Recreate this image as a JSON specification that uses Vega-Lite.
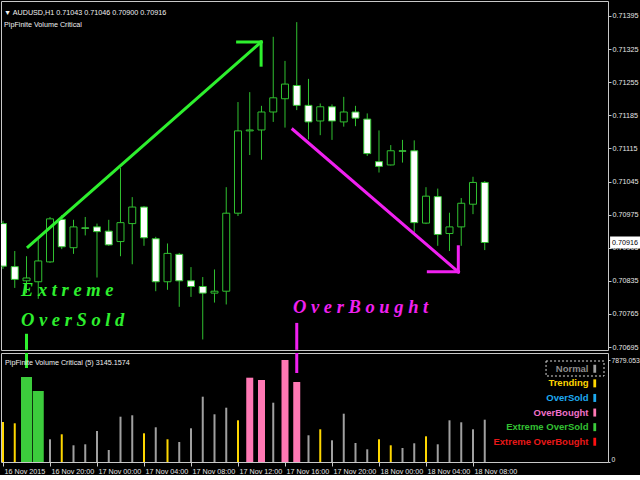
{
  "$schema": "https://vega.github.io/schema/vega-lite/v6.json",
  "background": "black",
  "padding": 0,
  "bounds": "flush",
  "spacing": 3,
  "resolve": {"scale": {"color": "independent"}, "legend": {"color": "independent"}},
  "config": {
    "view": {"stroke": "#c8c8c8", "strokeWidth": 1},
    "font": "Liberation Sans",
    "scale": {"continuousPadding": 0},
    "axis": {"labelColor": "#e6e6e6", "tickColor": "#c8c8c8", "domain": false, "grid": false, "labelFont": "Liberation Sans", "labelFontSize": 7.2, "title": null, "labelOverlap": false},
    "axisY": {"labelOverlap": false}
  },
  "datasets": {
    "bars": [
      {"t":"2015-11-16T16:00:00Z","o":0.70956,"h":0.70962,"l":0.70860,"c":0.70866,"vol":3090,"state":"Trending"},
      {"t":"2015-11-16T17:00:00Z","o":0.70865,"h":0.70898,"l":0.70820,"c":0.70838,"vol":2990,"state":"Trending"},
      {"t":"2015-11-16T18:00:00Z","o":0.70835,"h":0.70887,"l":0.70809,"c":0.70841,"vol":6566,"state":"Extreme OverSold"},
      {"t":"2015-11-16T19:00:00Z","o":0.70833,"h":0.70923,"l":0.70797,"c":0.70877,"vol":5485,"state":"Extreme OverSold"},
      {"t":"2015-11-16T20:00:00Z","o":0.70875,"h":0.70970,"l":0.70873,"c":0.70966,"vol":1754,"state":"Normal"},
      {"t":"2015-11-16T21:00:00Z","o":0.70965,"h":0.70974,"l":0.70902,"c":0.70907,"vol":2140,"state":"Trending"},
      {"t":"2015-11-16T22:00:00Z","o":0.70905,"h":0.70964,"l":0.70892,"c":0.70949,"vol":1290,"state":"Normal"},
      {"t":"2015-11-16T23:00:00Z","o":0.70947,"h":0.70970,"l":0.70931,"c":0.70946,"vol":1367,"state":"Normal"},
      {"t":"2015-11-17T00:00:00Z","o":0.70949,"h":0.70956,"l":0.70842,"c":0.70939,"vol":2395,"state":"Normal"},
      {"t":"2015-11-17T01:00:00Z","o":0.70940,"h":0.70964,"l":0.70909,"c":0.70911,"vol":927,"state":"Normal"},
      {"t":"2015-11-17T02:00:00Z","o":0.70918,"h":0.71074,"l":0.70887,"c":0.70958,"vol":3500,"state":"Normal"},
      {"t":"2015-11-17T03:00:00Z","o":0.70956,"h":0.71012,"l":0.70870,"c":0.70991,"vol":3608,"state":"Normal"},
      {"t":"2015-11-17T04:00:00Z","o":0.70991,"h":0.70993,"l":0.70909,"c":0.70926,"vol":2217,"state":"Trending"},
      {"t":"2015-11-17T05:00:00Z","o":0.70924,"h":0.70928,"l":0.70813,"c":0.70833,"vol":2681,"state":"Normal"},
      {"t":"2015-11-17T06:00:00Z","o":0.70833,"h":0.70914,"l":0.70816,"c":0.70893,"vol":1754,"state":"Trending"},
      {"t":"2015-11-17T07:00:00Z","o":0.70891,"h":0.70894,"l":0.70780,"c":0.70835,"vol":1545,"state":"Normal"},
      {"t":"2015-11-17T08:00:00Z","o":0.70835,"h":0.70864,"l":0.70801,"c":0.70823,"vol":2603,"state":"Normal"},
      {"t":"2015-11-17T09:00:00Z","o":0.70823,"h":0.70843,"l":0.70711,"c":0.70809,"vol":5045,"state":"Normal"},
      {"t":"2015-11-17T10:00:00Z","o":0.70809,"h":0.70859,"l":0.70789,"c":0.70813,"vol":3685,"state":"Normal"},
      {"t":"2015-11-17T11:00:00Z","o":0.70813,"h":0.71033,"l":0.70785,"c":0.70978,"vol":4195,"state":"Normal"},
      {"t":"2015-11-17T12:00:00Z","o":0.70978,"h":0.71213,"l":0.70972,"c":0.71152,"vol":3221,"state":"Trending"},
      {"t":"2015-11-17T13:00:00Z","o":0.71152,"h":0.71234,"l":0.71101,"c":0.71154,"vol":6512,"state":"OverBought"},
      {"t":"2015-11-17T14:00:00Z","o":0.71154,"h":0.71205,"l":0.71091,"c":0.71192,"vol":6335,"state":"OverBought"},
      {"t":"2015-11-17T15:00:00Z","o":0.71192,"h":0.71351,"l":0.71171,"c":0.71222,"vol":4581,"state":"Normal"},
      {"t":"2015-11-17T16:00:00Z","o":0.71220,"h":0.71300,"l":0.71159,"c":0.71251,"vol":7879,"state":"OverBought"},
      {"t":"2015-11-17T17:00:00Z","o":0.71248,"h":0.71382,"l":0.71196,"c":0.71206,"vol":6180,"state":"OverBought"},
      {"t":"2015-11-17T18:00:00Z","o":0.71206,"h":0.71262,"l":0.71134,"c":0.71171,"vol":2063,"state":"Normal"},
      {"t":"2015-11-17T19:00:00Z","o":0.71173,"h":0.71210,"l":0.71143,"c":0.71203,"vol":2526,"state":"Trending"},
      {"t":"2015-11-17T20:00:00Z","o":0.71203,"h":0.71208,"l":0.71133,"c":0.71173,"vol":1676,"state":"Normal"},
      {"t":"2015-11-17T21:00:00Z","o":0.71171,"h":0.71224,"l":0.71161,"c":0.71192,"vol":3731,"state":"Normal"},
      {"t":"2015-11-17T22:00:00Z","o":0.71192,"h":0.71205,"l":0.71162,"c":0.71179,"vol":1468,"state":"Normal"},
      {"t":"2015-11-17T23:00:00Z","o":0.71177,"h":0.71189,"l":0.71099,"c":0.71104,"vol":981,"state":"Normal"},
      {"t":"2015-11-18T00:00:00Z","o":0.71087,"h":0.71153,"l":0.71064,"c":0.71077,"vol":1754,"state":"Trending"},
      {"t":"2015-11-18T01:00:00Z","o":0.71080,"h":0.71122,"l":0.71079,"c":0.71110,"vol":1290,"state":"Trending"},
      {"t":"2015-11-18T02:00:00Z","o":0.71110,"h":0.71133,"l":0.71085,"c":0.71109,"vol":1082,"state":"Normal"},
      {"t":"2015-11-18T03:00:00Z","o":0.71110,"h":0.71132,"l":0.70937,"c":0.70958,"vol":1445,"state":"Normal"},
      {"t":"2015-11-18T04:00:00Z","o":0.70957,"h":0.71033,"l":0.70955,"c":0.71014,"vol":1985,"state":"Trending"},
      {"t":"2015-11-18T05:00:00Z","o":0.71013,"h":0.71030,"l":0.70909,"c":0.70933,"vol":1367,"state":"Normal"},
      {"t":"2015-11-18T06:00:00Z","o":0.70935,"h":0.70979,"l":0.70898,"c":0.70949,"vol":3221,"state":"Normal"},
      {"t":"2015-11-18T07:00:00Z","o":0.70949,"h":0.71010,"l":0.70909,"c":0.70999,"vol":3067,"state":"Normal"},
      {"t":"2015-11-18T08:00:00Z","o":0.70997,"h":0.71055,"l":0.70976,"c":0.71043,"vol":2526,"state":"Normal"},
      {"t":"2015-11-18T09:00:00Z","o":0.71043,"h":0.71046,"l":0.70900,"c":0.70916,"vol":3268,"state":"Normal"}
    ],
    "arrows": [
      {"dir":"up","t":"2015-11-16T18:08:00Z","p":0.70907,"t2":"2015-11-17T13:58:00Z","p2":0.71340},
      {"dir":"up","t":"2015-11-17T11:58:00Z","p":0.71340,"t2":"2015-11-17T13:58:00Z","p2":0.71340},
      {"dir":"up","t":"2015-11-17T13:58:00Z","p":0.71340,"t2":"2015-11-17T13:58:00Z","p2":0.71291},
      {"dir":"down","t":"2015-11-17T16:40:00Z","p":0.71155,"t2":"2015-11-18T06:45:00Z","p2":0.70854},
      {"dir":"down","t":"2015-11-18T04:12:00Z","p":0.70854,"t2":"2015-11-18T06:45:00Z","p2":0.70854},
      {"dir":"down","t":"2015-11-18T06:45:00Z","p":0.70854,"t2":"2015-11-18T06:45:00Z","p2":0.70907}
    ],
    "notes": [
      {"dir":"up","text":"E x t r e m e","t":"2015-11-16T17:32:00Z","p":0.70803},
      {"dir":"up","text":"O v e r S o l d","t":"2015-11-16T17:32:00Z","p":0.70739},
      {"dir":"down","text":"O v e r B o u g h t","t":"2015-11-17T16:41:00Z","p":0.70767}
    ],
    "signals": [
      {"dir":"up","t":"2015-11-16T18:00:00Z","p":0.70723,"v":7262},
      {"dir":"down","t":"2015-11-17T17:00:00Z","p":0.70746,"v":6875}
    ],
    "frames": [
      {"entry":"Normal","t":"2015-11-18T14:13:00Z","t2":"2015-11-18T19:09:00Z","v":7802,"v2":6643}
    ]
  },
  "vconcat": [
    {
      "width": 607,
      "height": 349,
      "title": {"text": "▼ AUDUSD,H1  0.71043 0.71046 0.70900 0.70916", "subtitle": "PipFinite Volume Critical", "anchor": "start", "frame": "group", "orient": "top", "offset": -27, "dx": 3, "color": "#f0f0f0", "fontSize": 7.2, "fontWeight": "normal", "font": "Liberation Sans", "subtitleColor": "#f0f0f0", "subtitleFontSize": 7.2, "subtitleFont": "Liberation Sans", "subtitlePadding": 5},
      "resolve": {"axis": {"y": "independent"}},
      "encoding": {
        "x": {"field": "t", "type": "temporal", "axis": null,
              "scale": {"type": "utc", "nice": false, "padding": 0, "domain": [{"year":2015,"month":11,"date":16,"hours":15,"minutes":49,"seconds":47,"utc":true},{"year":2015,"month":11,"date":18,"hours":19,"minutes":29,"seconds":23,"utc":true}]}}
      },
      "layer": [
        {
          "data": {"name": "bars"},
          "mark": {"type": "rule", "color": "#30c030", "strokeWidth": 1, "clip": true},
          "encoding": {
            "y": {"field": "l", "type": "quantitative",
                  "scale": {"domain": [0.706887, 0.714267], "nice": false, "zero": false, "padding": 0},
                  "axis": {"orient": "right", "values": [0.71395,0.71325,0.71255,0.71185,0.71115,0.71045,0.70975,0.70905,0.70835,0.70765,0.70695], "format": ".5f", "tickSize": 3, "labelPadding": 1, "labelOverlap": false, "labelFlush": false, "zindex": 0}},
            "y2": {"field": "h"}
          }
        },
        {
          "data": {"name": "bars"},
          "mark": {"type": "bar", "width": 7, "stroke": "#30c030", "strokeWidth": 1, "clip": true},
          "encoding": {
            "y": {"field": "o", "type": "quantitative", "axis": null},
            "y2": {"field": "c"},
            "fill": {"condition": {"test": "datum.c >= datum.o", "value": "black"}, "value": "white"}
          }
        },
        {
          "data": {"name": "arrows"},
          "mark": {"type": "rule", "strokeWidth": 3, "strokeCap": "square"},
          "encoding": {
            "x2": {"field": "t2"},
            "y": {"field": "p", "type": "quantitative", "axis": null},
            "y2": {"field": "p2"},
            "color": {"field": "dir", "type": "nominal", "scale": {"domain": ["up","down"], "range": ["#2ef02e","#f020f0"]}, "legend": null}
          }
        },
        {
          "data": {"name": "notes"},
          "mark": {"type": "text", "align": "left", "baseline": "alphabetic", "font": "Liberation Serif", "fontStyle": "italic", "fontWeight": "bold", "fontSize": 18.5},
          "encoding": {
            "y": {"field": "p", "type": "quantitative", "axis": null},
            "text": {"field": "text"},
            "color": {"field": "dir", "type": "nominal", "legend": null}
          }
        },
        {
          "data": {"name": "signals"},
          "mark": {"type": "rule", "strokeWidth": 3},
          "encoding": {
            "y": {"field": "p", "type": "quantitative", "axis": null},
            "y2": {"datum": 0.70689},
            "color": {"field": "dir", "type": "nominal", "legend": null}
          }
        },
        {
          "data": {"name": "bars"},
          "transform": [{"filter": {"field": "t", "equal": {"year":2015,"month":11,"date":18,"hours":9,"utc":true}}}],
          "mark": {"type": "bar", "height": 12, "fill": "white", "clip": false},
          "encoding": {
            "x": {"datum": {"year":2015,"month":11,"date":18,"hours":19,"minutes":40,"utc":true}, "type": "temporal"},
            "x2": {"datum": {"year":2015,"month":11,"date":18,"hours":23,"minutes":0,"utc":true}},
            "y": {"field": "c", "type": "quantitative", "axis": null}
          }
        },
        {
          "data": {"name": "bars"},
          "transform": [{"filter": {"field": "t", "equal": {"year":2015,"month":11,"date":18,"hours":9,"utc":true}}}],
          "mark": {"type": "text", "align": "left", "baseline": "middle", "color": "black", "fontSize": 7.2, "font": "Liberation Sans", "clip": false},
          "encoding": {
            "x": {"datum": {"year":2015,"month":11,"date":18,"hours":19,"minutes":50,"utc":true}, "type": "temporal"},
            "y": {"field": "c", "type": "quantitative", "axis": null},
            "text": {"field": "c", "type": "quantitative", "format": ".5f"}
          }
        }
      ]
    },
    {
      "width": 607,
      "height": 109,
      "title": {"text": "PipFinite Volume Critical (5) 3145.1574", "anchor": "start", "frame": "group", "orient": "top", "offset": -15, "dx": 4, "color": "#f0f0f0", "fontSize": 7.2, "fontWeight": "normal", "font": "Liberation Sans"},
      "encoding": {
        "x": {"field": "t", "type": "temporal",
              "scale": {"type": "utc", "nice": false, "padding": 0, "domain": [{"year":2015,"month":11,"date":16,"hours":15,"minutes":49,"seconds":47,"utc":true},{"year":2015,"month":11,"date":18,"hours":19,"minutes":29,"seconds":23,"utc":true}]},
              "axis": {"orient": "bottom", "labelAlign": "left", "labelOffset": 1, "labelPadding": 1, "tickSize": 4, "labelOverlap": false, "labelFlush": false, "labelBound": false,
                       "values": [
                         {"year":2015,"month":11,"date":16,"hours":16,"utc":true},
                         {"year":2015,"month":11,"date":16,"hours":20,"utc":true},
                         {"year":2015,"month":11,"date":17,"hours":0,"utc":true},
                         {"year":2015,"month":11,"date":17,"hours":4,"utc":true},
                         {"year":2015,"month":11,"date":17,"hours":8,"utc":true},
                         {"year":2015,"month":11,"date":17,"hours":12,"utc":true},
                         {"year":2015,"month":11,"date":17,"hours":16,"utc":true},
                         {"year":2015,"month":11,"date":17,"hours":20,"utc":true},
                         {"year":2015,"month":11,"date":18,"hours":0,"utc":true},
                         {"year":2015,"month":11,"date":18,"hours":4,"utc":true},
                         {"year":2015,"month":11,"date":18,"hours":8,"utc":true}
                       ],
                       "labelExpr": "utcFormat(datum.value, '%d %b %H:%M') === '16 Nov 16:00' ? '16 Nov 2015' : utcFormat(datum.value, '%d %b %H:%M')"}}
      },
      "layer": [
        {
          "data": {"name": "bars"},
          "transform": [{"filter": "datum.state === 'Normal' || datum.state === 'Trending'"}],
          "mark": {"type": "bar", "width": 2},
          "encoding": {
            "y": {"field": "vol", "type": "quantitative", "scale": {"domain": [0, 8420], "nice": false, "padding": 0},
                  "axis": {"orient": "right", "values": [0, 7879.053], "labelExpr": "datum.value === 0 ? '0' : '7879.053'", "labelFlush": true, "labelOverlap": false, "tickSize": 2, "labelPadding": 1, "labelFontSize": 6.8}},
            "color": {"field": "state", "type": "nominal",
                      "scale": {"domain": ["Normal","Trending","OverSold","OverBought","Extreme OverSold","Extreme OverBought"], "range": ["#a0a0a0","#ffd700","#1eaaf0","#ff78b4","#3ccc3c","#ff1010"]},
                      "legend": {"orient": "none", "legendX": 589, "legendY": 11, "direction": "vertical", "title": null, "padding": 0,
                                 "symbolType": "M-0.35,-1H0.35V1H-0.35Z", "symbolSize": 64, "symbolStrokeWidth": 0,
                                 "labelAlign": "right", "labelOffset": -11, "labelFontSize": 9.5, "labelFontWeight": "bold", "labelFont": "Liberation Sans", "labelLimit": 200,
                                 "rowPadding": 3.6,
                                 "encode": {"labels": {"update": {"fill": {"signal": "datum.label === 'Normal' ? '#8c8c8c' : datum.label === 'Trending' ? '#ffd700' : datum.label === 'OverSold' ? '#1eaaf0' : datum.label === 'OverBought' ? '#f070c8' : datum.label === 'Extreme OverSold' ? '#33c033' : '#e81818'"}}}}}}
          }
        },
        {
          "data": {"name": "bars"},
          "transform": [{"filter": "datum.state === 'OverBought'"}],
          "mark": {"type": "bar", "width": 7},
          "encoding": {
            "y": {"field": "vol", "type": "quantitative"},
            "color": {"field": "state", "type": "nominal"}
          }
        },
        {
          "data": {"name": "bars"},
          "transform": [{"filter": "datum.state === 'Extreme OverSold'"}],
          "mark": {"type": "bar", "width": 11},
          "encoding": {
            "y": {"field": "vol", "type": "quantitative"},
            "color": {"field": "state", "type": "nominal"}
          }
        },
        {
          "data": {"name": "signals"},
          "transform": [{"filter": "datum.dir === 'up'"}],
          "mark": {"type": "rule", "strokeWidth": 3, "color": "#2ef02e"},
          "encoding": {
            "y": {"field": "v", "type": "quantitative"},
            "y2": {"datum": 8420}
          }
        },
        {
          "data": {"name": "signals"},
          "transform": [{"filter": "datum.dir === 'down'"}],
          "mark": {"type": "rule", "strokeWidth": 3, "color": "#f020f0"},
          "encoding": {
            "y": {"field": "v", "type": "quantitative"},
            "y2": {"datum": 8420}
          }
        },
        {
          "data": {"name": "frames"},
          "mark": {"type": "rect", "filled": false, "stroke": "#d8d8d8", "strokeWidth": 1, "strokeDash": [2, 2]},
          "encoding": {
            "x2": {"field": "t2"},
            "y": {"field": "v", "type": "quantitative"},
            "y2": {"field": "v2"}
          }
        }
      ]
    }
  ]
}
